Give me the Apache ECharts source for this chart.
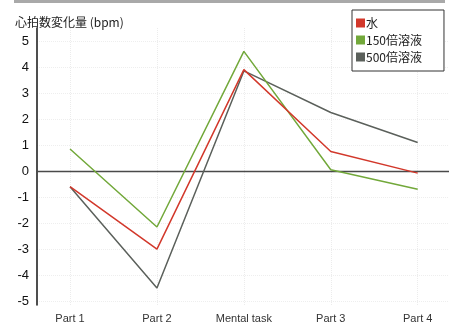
<!DOCTYPE html>
<html>
<head>
<meta charset="utf-8">
<script src="https://cdn.jsdelivr.net/npm/echarts@6/dist/echarts.min.js"></script>
<style>
  html, body { margin: 0; padding: 0; background: #fff; }
  #chart { width: 449px; height: 326px; }
</style>
</head>
<body>
<div id="chart"></div>
<script>
// Heart-rate change per session phase
const categories = ['Part 1', 'Part 2', 'Mental task', 'Part 3', 'Part 4'];
const yTicks = [-5, -4, -3, -2, -1, 0, 1, 2, 3, 4, 5];
const seriesNames = ['水', '150倍溶液', '500倍溶液'];
const water = [-0.6, -3.0, 3.9, 0.75, -0.08];
const sol150 = [0.85, -2.15, 4.6, 0.05, -0.7];
const sol500 = [-0.6, -4.5, 3.85, 2.25, 1.1];
const colors = ['#d2382b', '#72a83a', '#5b605b'];

const FONT = '"Noto Sans CJK JP", "Liberation Sans", sans-serif';

function toPoints(vals) {
  return vals.map((v, i) => [i, v]);
}

const chart = echarts.init(document.getElementById('chart'));
chart.setOption({
  animation: false,
  backgroundColor: '#fff',
  textStyle: { fontFamily: FONT },
  graphic: [
    { type: 'rect', shape: { x: 14, y: 0, width: 431, height: 3 }, style: { fill: '#a9a9a9' } }
  ],
  title: {
    text: '心拍数変化量 (bpm)',
    left: 10, top: 11,
    textStyle: { fontSize: 12, fontWeight: 'normal', color: '#222', fontFamily: FONT }
  },
  legend: {
    data: seriesNames,
    orient: 'vertical',
    left: 352, top: 10,
    icon: 'rect',
    itemWidth: 9, itemHeight: 9,
    itemGap: 5,
    padding: [7, 22, 8, 4],
    backgroundColor: '#fff',
    borderColor: '#333',
    borderWidth: 1,
    textStyle: { fontSize: 12, color: '#222', padding: [0, 0, 0, -4], fontFamily: FONT }
  },
  grid: { left: 37, right: 0, top: 28, bottom: 21 },
  xAxis: {
    type: 'value',
    min: -0.38, max: 4.36,
    axisLine: { onZero: true, lineStyle: { color: '#4a4a4a', width: 1.4 } },
    axisTick: { show: false, customValues: [0, 1, 2, 3, 4] },
    axisLabel: {
      customValues: [0, 1, 2, 3, 4],
      formatter: v => categories[v],
      color: '#333', fontSize: 11, margin: 8,
      fontFamily: '"Liberation Sans", Arial, sans-serif'
    },
    splitLine: { show: true, lineStyle: { color: '#ececec', type: 'dotted', width: 1 } }
  },
  yAxis: {
    type: 'value',
    min: -5.15, max: 5.5,
    axisLine: { show: true, onZero: false, lineStyle: { color: '#222', width: 1.6 } },
    axisTick: { show: false, customValues: yTicks },
    axisLabel: {
      customValues: yTicks,
      color: '#111', fontSize: 13, margin: 8,
      fontFamily: '"Liberation Sans", Arial, sans-serif'
    },
    splitLine: { show: true, lineStyle: { color: '#eeeeee', type: 'dotted', width: 1 } }
  },
  series: [
    { name: seriesNames[0], type: 'line', data: toPoints(water) },
    { name: seriesNames[1], type: 'line', data: toPoints(sol150) },
    { name: seriesNames[2], type: 'line', data: toPoints(sol500) }
  ].map((s, i) => Object.assign(s, {
    color: colors[i],
    showSymbol: false,
    symbol: 'none',
    lineStyle: { width: 1.5, color: colors[i] },
    z: 3 - i
  }))
});
</script>
</body>
</html>
